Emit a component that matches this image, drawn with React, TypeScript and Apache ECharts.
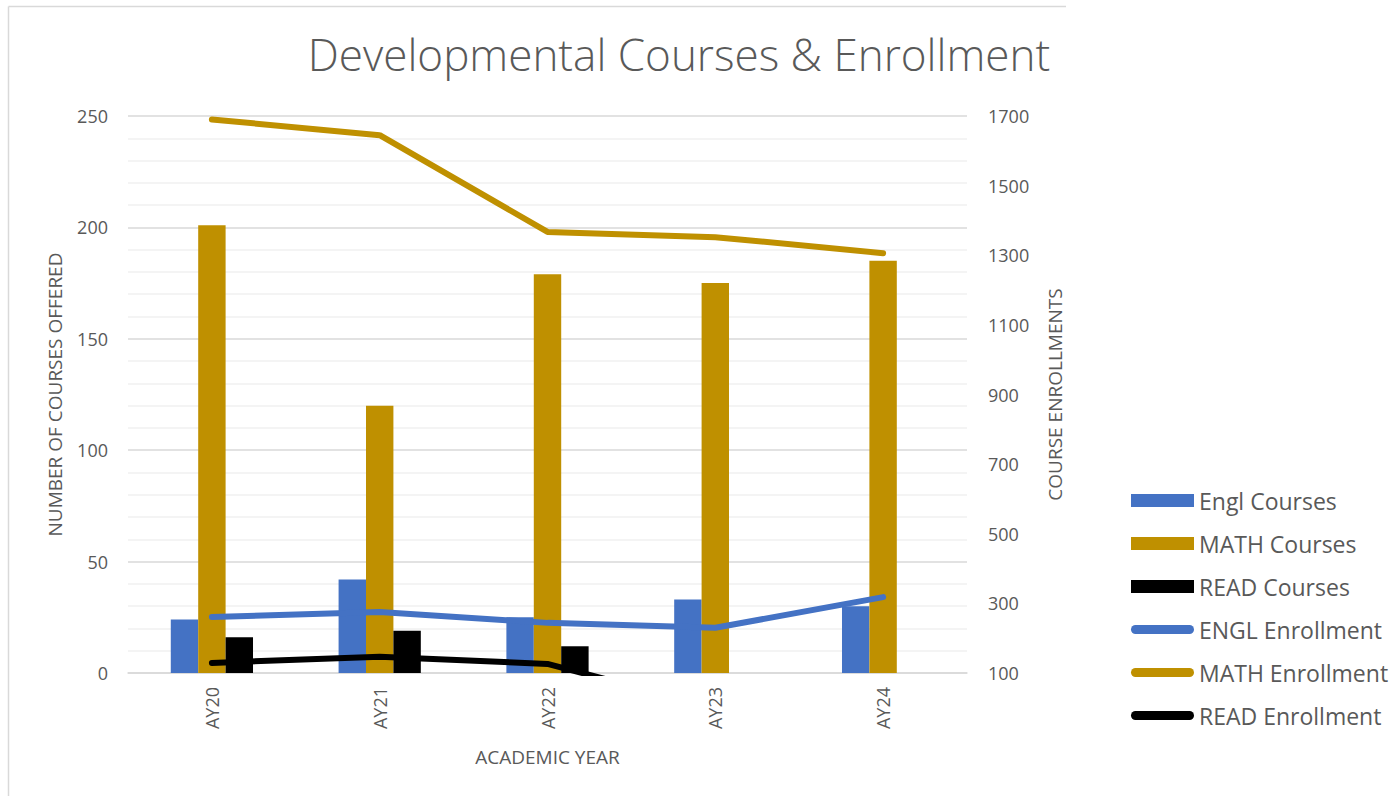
import React, { useEffect, useRef } from "react";
import * as echarts from "echarts";

const categories = ["AY20", "AY21", "AY22", "AY23", "AY24"];
const englCourses = [24, 42, 25, 33, 30];
const mathCourses = [201, 120, 179, 175, 185];
const readCourses: (number | null)[] = [16, 19, 12, null, null];
const englEnrollment = [261, 275, 244, 230, 318];
const mathEnrollment = [1690, 1645, 1367, 1352, 1306];
const readEnrollment = [129, 147, 126, 0, 0];

const FONT = "'Open Sans', 'Noto Sans', sans-serif";
const TXT = "#595959";
const BLUE = "#4472C4";
const GOLD = "#BF9000";
const BLACK = "#000000";

const linePath = "path://M4.5,0 L59.5,0 A4.5,4.5 0 0 1 59.5,9 L4.5,9 A4.5,4.5 0 0 1 4.5,0 Z";

export default function App() {
  const ref = useRef<HTMLDivElement>(null);
  useEffect(() => {
    if (!ref.current) return;
    const chart = echarts.init(ref.current, undefined, { renderer: "svg" });
    chart.setOption({
      animation: false,
      backgroundColor: "#ffffff",
      textStyle: { fontFamily: FONT },
      title: {
        text: "Developmental Courses & Enrollment",
        left: 674,
        top: 27,
        textAlign: "center",
        textStyle: { fontFamily: FONT, fontSize: 44, fontWeight: 300, color: TXT },
      },
      graphic: [
        { type: "line", shape: { x1: 8.5, y1: 6.5, x2: 1066, y2: 6.5 }, style: { stroke: "#d9d9d9", lineWidth: 1.5 } },
        { type: "line", shape: { x1: 8.5, y1: 6.5, x2: 8.5, y2: 796 }, style: { stroke: "#d9d9d9", lineWidth: 1.5 } },
      ],
      legend: {
        orient: "vertical",
        left: 1126,
        top: 483,
        itemWidth: 63,
        itemHeight: 13,
        itemGap: 18,
        lineStyle: { width: 0 },
        textStyle: { fontFamily: FONT, fontSize: 23, color: TXT, lineHeight: 25 },
        data: [
          { name: "Engl Courses", icon: "rect" },
          { name: "MATH Courses", icon: "rect" },
          { name: "READ Courses", icon: "rect" },
          { name: "ENGL Enrollment", icon: linePath },
          { name: "MATH Enrollment", icon: linePath },
          { name: "READ Enrollment", icon: linePath },
        ],
      },
      grid: { left: 128, right: 431, top: 116, bottom: 123, containLabel: false },
      xAxis: {
        type: "category",
        data: categories,
        name: "ACADEMIC YEAR",
        nameLocation: "middle",
        nameGap: 74,
        nameTextStyle: { fontFamily: FONT, fontSize: 19, color: TXT },
        axisLine: { show: true, lineStyle: { color: "#d9d9d9", width: 1.5 } },
        axisTick: { show: false },
        axisLabel: { rotate: 90, margin: 14, fontFamily: FONT, fontSize: 18, color: TXT },
      },
      yAxis: [
        {
          type: "value",
          min: 0,
          max: 250,
          interval: 50,
          name: "NUMBER OF COURSES OFFERED",
          nameLocation: "middle",
          nameGap: 64,
          nameRotate: 90,
          nameTextStyle: { fontFamily: FONT, fontSize: 19, color: TXT },
          axisLine: { show: false },
          axisTick: { show: false },
          axisLabel: { margin: 20, fontFamily: FONT, fontSize: 18, color: TXT },
          splitLine: { show: true, lineStyle: { color: "#d9d9d9", width: 1.5 } },
          minorTick: { show: false, splitNumber: 5 },
          minorSplitLine: { show: true, lineStyle: { color: "#f0f0f0", width: 1.5 } },
        },
        {
          type: "value",
          min: 100,
          max: 1700,
          interval: 200,
          position: "right",
          name: "COURSE ENROLLMENTS",
          nameLocation: "middle",
          nameGap: 78,
          nameRotate: 90,
          nameTextStyle: { fontFamily: FONT, fontSize: 19, color: TXT },
          axisLine: { show: false },
          axisTick: { show: false },
          axisLabel: { margin: 21, fontFamily: FONT, fontSize: 18, color: TXT, formatter: (v: number) => String(v) },
          splitLine: { show: false },
        },
      ],
      series: [
        { name: "Engl Courses", type: "bar", data: englCourses, color: BLUE, barGap: "0%", barCategoryGap: "51%", yAxisIndex: 0 },
        { name: "MATH Courses", type: "bar", data: mathCourses, color: GOLD, barGap: "0%", barCategoryGap: "51%", yAxisIndex: 0 },
        { name: "READ Courses", type: "bar", data: readCourses, color: BLACK, barGap: "0%", barCategoryGap: "51%", yAxisIndex: 0 },
        {
          name: "ENGL Enrollment", type: "line", data: englEnrollment, color: BLUE, yAxisIndex: 1,
          showSymbol: false, symbol: "none", smooth: false,
          lineStyle: { width: 6, cap: "round", join: "round", color: BLUE },
        },
        {
          name: "MATH Enrollment", type: "line", data: mathEnrollment, color: GOLD, yAxisIndex: 1,
          showSymbol: false, symbol: "none", smooth: false,
          lineStyle: { width: 6, cap: "round", join: "round", color: GOLD },
        },
        {
          name: "READ Enrollment", type: "line", data: readEnrollment, color: BLACK, yAxisIndex: 1,
          showSymbol: false, symbol: "none", smooth: false,
          lineStyle: { width: 6, cap: "round", join: "round", color: BLACK },
        },
      ],
    });
    return () => chart.dispose();
  }, []);
  return (
    <div
      ref={ref}
      style={{ position: "fixed", left: 0, top: 0, width: "1398px", height: "796px", background: "#fff" }}
    />
  );
}
